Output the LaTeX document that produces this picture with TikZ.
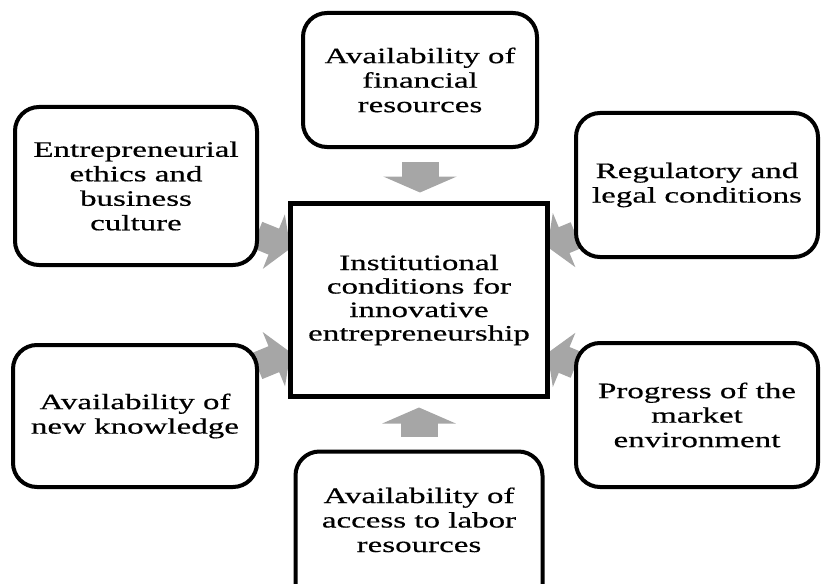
\documentclass[tikz,border=0pt]{standalone}
\usepackage{fontspec}
\setmainfont{Liberation Serif}[FakeStretch=1.5, FakeBold=0.5]
\usetikzlibrary{arrows.meta}
\usetikzlibrary{backgrounds}
\definecolor{arrowgray}{RGB}{166,166,166}
\tikzset{
  % rounded boxes for the single conditions
  factor/.style={draw, line width=4pt, rounded corners=24pt, fill=white, align=center, outer sep=0pt, font=\fontsize{22}{24.5}\selectfont},
  % the box in the middle
  core/.style={draw, line width=4.5pt, fill=white, align=center, outer sep=0pt, font=\fontsize{22}{23.5}\selectfont},
  % grey block arrows
  bigarrow/.style={arrowgray, line width=37pt, -{Triangle[width=73pt, length=16pt]}},
  sidearrow/.style={arrowgray, line width=28pt, -{Triangle[width=58pt, length=18pt]}},
}

\begin{document}
\begin{tikzpicture}[x=1pt, y=-1pt]
  \useasboundingbox (0,0) rectangle (821,583);

  \node[core, minimum width=257pt, minimum height=193pt] (ctr) at (419,300) {Institutional\\conditions for\\innovative\\entrepreneurship};

  \node[factor, minimum width=234pt, minimum height=134pt] (fin) at (420,80) {Availability of\\financial\\resources};
  \node[factor, minimum width=242pt, minimum height=158pt] (ethics) at (136,186) {Entrepreneurial\\ethics and\\business\\culture};
  \node[factor, minimum width=242pt, minimum height=144pt] (regul) at (697,185) {Regulatory and\\legal conditions};
  \node[factor, minimum width=244pt, minimum height=142pt] (know) at (135,416) {Availability of\\new knowledge};
  \node[factor, minimum width=242pt, minimum height=144pt] (prog) at (697,415) {Progress of the\\market\\environment};
  % runs off the lower edge of the page
  \node[factor, minimum width=247pt, minimum height=171pt] (labor) at (419,537) {Availability of\\access to labor\\resources\\[10pt]\mbox{}};

  \begin{scope}[on background layer]
    \draw[bigarrow, shorten <=15pt, shorten >=11pt] (fin.south) -- (fin.south |- ctr.north);
    \draw[bigarrow, shorten <=15pt, shorten >=11pt] (labor.north) -- (labor.north |- ctr.south);
    \draw[sidearrow] (ethics) -- (ctr);
    \draw[sidearrow] (know) -- (ctr);
    \draw[sidearrow] (regul) -- (ctr);
    \draw[sidearrow] (prog) -- (ctr);
  \end{scope}
\end{tikzpicture}
\end{document}
